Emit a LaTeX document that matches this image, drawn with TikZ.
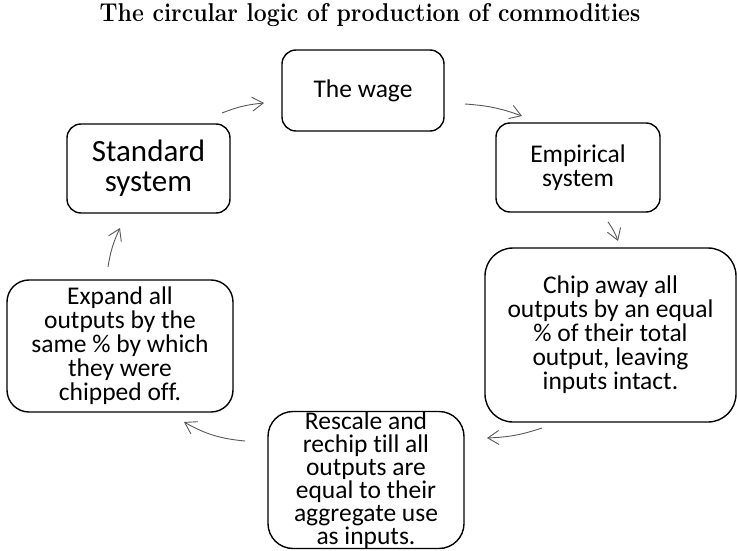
\documentclass[tikz,border=0pt]{standalone}
\usepackage{fontspec}
\newfontfamily\boxfont[Ligatures=NoCommon]{Carlito}
\usetikzlibrary{arrows.meta}
\begin{document}
\begin{tikzpicture}[x=1pt,y=-1pt,
  box/.style={draw=black, line width=1.4pt, rounded corners=14pt, align=center, inner sep=0pt,
    font=\boxfont\fontsize{25.5}{24}\selectfont},
  arr/.style={draw=black!65, line width=0.9pt, -{Straight Barb[length=11pt,width=14pt]}, bend left=8}]
\useasboundingbox (0,0) rectangle (737,551);
\node (title) at (370,22) [anchor=base, font=\bfseries\fontsize{23}{26}\selectfont]
  {\scalebox{1}[1.12]{The circular logic of production of commodities}};
\node[box, minimum width=162pt, minimum height=81pt] (wage) at (363,90.5) {The wage};
\node[box, minimum width=164pt, minimum height=89pt] (emp) at (578,167.5) {Empirical\\system};
\node[box, minimum width=251pt, minimum height=174pt, rounded corners=28pt] (chip) at (610.5,335)
  {Chip away all\\outputs by an equal\\\% of their total\\output, leaving\\inputs intact.};
\node[box, minimum width=196pt, minimum height=137pt, rounded corners=25pt,
  font=\boxfont\fontsize{25.5}{23}\selectfont] (resc) at (366,480)
  {Rescale and\\rechip till all\\outputs are\\equal to their\\aggregate use\\as inputs.};
\node[box, minimum width=226pt, minimum height=132pt, rounded corners=22pt] (exp) at (120,346)
  {Expand all\\outputs by the\\same \% by which\\they were\\chipped off.};
\node[box, minimum width=163pt, minimum height=89pt, font=\boxfont\fontsize{31}{30}\selectfont] (std) at (148.5,168.5)
  {Standard\\system};
\coordinate (a1s) at (222,113); \coordinate (a1e) at (264,103);
\coordinate (a2s) at (465,104); \coordinate (a2e) at (522,116);
\coordinate (a3s) at (608,222); \coordinate (a3e) at (618,241);
\coordinate (a4s) at (542,428); \coordinate (a4e) at (487,438);
\coordinate (a5s) at (245,441); \coordinate (a5e) at (184,422);
\coordinate (a6s) at (108,267); \coordinate (a6e) at (120,228);
\draw[arr] (a1s) to (a1e);
\draw[arr] (a2s) to (a2e);
\draw[arr] (a3s) to (a3e);
\draw[arr] (a4s) to (a4e);
\draw[arr, bend left=12] (a5s) to (a5e);
\draw[arr] (a6s) to (a6e);
\end{tikzpicture}
\end{document}
